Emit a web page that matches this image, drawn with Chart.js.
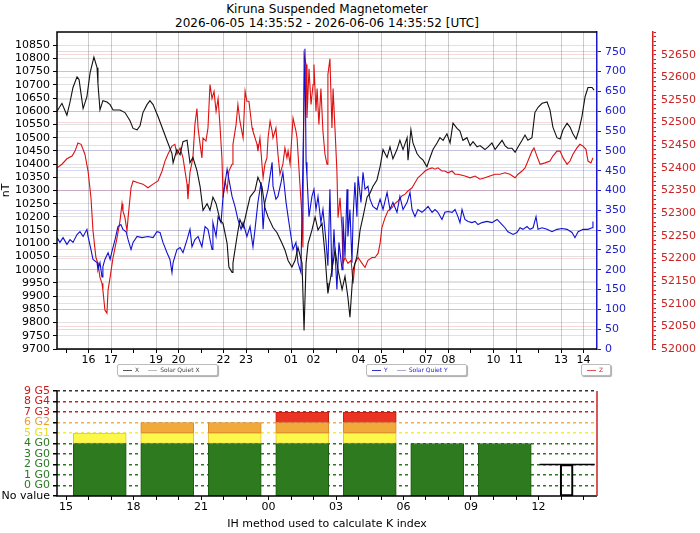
<!DOCTYPE html>
<html>
<head>
<meta charset="utf-8">
<script src="https://cdn.jsdelivr.net/npm/chart.js@4.4.1/dist/chart.umd.min.js"></script>
<style>
  body { margin: 0; background: #fff; width: 700px; height: 533px; position: relative; overflow: hidden; font-family: "DejaVu Sans", sans-serif; }
  #title { position: absolute; left: 57px; width: 540px; top: 2px; text-align: center; font-size: 12px; line-height: 14px; color: #000; }
  #magChart { position: absolute; left: 0; top: 0; }
  #kChart { position: absolute; left: 0; top: 375px; }
  .leg { position: absolute; top: 364px; height: 10px; border: 1px solid #bbb; border-radius: 2px; background: #fff; box-shadow: 1px 1px 1px #aaa; font-size: 6px; line-height: 10px; white-space: nowrap; padding: 0 3px; }
  .leg i { display: inline-block; width: 9px; height: 0; border-top: 1px solid; vertical-align: middle; margin: 0 3px 0 2px; }
</style>
</head>
<body>
<div id="title">Kiruna Suspended Magnetometer<br>2026-06-05 14:35:52 - 2026-06-06 14:35:52 [UTC]</div>
<canvas id="magChart" width="700" height="372"></canvas>
<canvas id="kChart" width="700" height="158"></canvas>
<div class="leg" style="left:117px;width:93px;color:#444"><i style="border-color:#555"></i>X<i style="border-color:#bbb;margin-left:9px"></i>Solar Quiet X</div>
<div class="leg" style="left:366px;width:93px;color:#22c"><i style="border-color:#33c"></i>Y<i style="border-color:#aac;margin-left:9px"></i>Solar Quiet Y</div>
<div class="leg" style="left:581px;width:22px;color:#c22"><i style="border-color:#d55"></i>Z</div>
<script>
// hours since 2026-06-05 00:00 UTC (24 = 00 next day)
const hourTicks = [15,16,17,18,19,20,21,22,23,24,25,26,27,28,29,30,31,32,33,34,35,36,37,38];

const nTTicks = [9700,9750,9800,9850,9900,9950,10000,10050,10100,10150,10200,10250,10300,10350,10400,10450,10500,10550,10600,10650,10700,10750,10800,10850];
const yTicks = [0,50,100,150,200,250,300,350,400,450,500,550,600,650,700,750];
const zTicks = [52000,52050,52100,52150,52200,52250,52300,52350,52400,52450,52500,52550,52600,52650];

// X component (black, left axis)
const xTime = [14.60,14.82,15.04,15.18,15.31,15.49,15.58,15.76,15.93,16.07,
  16.24,16.38,16.42,16.51,16.64,16.82,16.96,17.09,17.40,17.62,
  17.84,17.98,18.16,18.29,18.42,18.60,18.73,18.87,19.09,19.31,
  19.53,19.71,19.76,19.93,20.07,20.20,20.38,20.51,20.64,20.82,
  20.96,21.09,21.27,21.40,21.53,21.67,21.84,21.98,22.16,22.24,
  22.38,22.42,22.60,22.73,22.87,23.04,23.18,23.40,23.53,23.71,
  23.84,23.98,24.20,24.38,24.60,24.73,24.87,25.04,25.18,25.31,
  25.49,25.58,25.67,25.76,25.93,26.07,26.20,26.38,26.51,26.60,
  26.64,26.82,26.96,27.09,27.27,27.40,27.53,27.62,27.76,27.93,
  28.07,28.20,28.38,28.51,28.64,28.82,28.96,29.09,29.27,29.40,
  29.53,29.71,29.84,29.98,30.16,30.20,30.33,30.42,30.60,30.73,
  30.87,31.04,31.18,31.31,31.49,31.62,31.76,31.93,32.07,32.20,
  32.38,32.51,32.64,32.82,32.96,33.09,33.27,33.40,33.62,33.76,
  33.93,34.07,34.20,34.38,34.51,34.64,34.82,34.96,35.09,35.27,
  35.40,35.53,35.71,35.84,35.98,36.16,36.38,36.51,36.64,36.82,
  36.96,37.09,37.27,37.40,37.53,37.67,37.80,37.93,38.07,38.20,
  38.38,38.47];
const xNT = [10600,10630,10585,10635,10690,10730,10720,10610,10655,10745,
  10805,10765,10705,10605,10640,10635,10625,10605,10605,10595,
  10565,10535,10530,10545,10595,10625,10640,10625,10580,10530,
  10480,10440,10405,10455,10435,10485,10490,10405,10425,10375,
  10315,10225,10250,10225,10275,10250,10190,10175,10100,10010,
  9990,10025,10125,10190,10160,10225,10275,10300,10350,10315,
  10235,10200,10160,10140,10100,10075,10035,10010,10035,10085,
  10025,9770,10025,10100,10150,10200,10150,10175,10060,9950,
  9910,10000,10075,10000,9925,9975,9895,9820,10000,10050,
  10150,10200,10275,10290,10315,10340,10390,10455,10425,10465,
  10420,10455,10490,10455,10500,10415,10530,10480,10440,10425,
  10415,10390,10425,10455,10480,10500,10490,10515,10480,10555,
  10535,10525,10490,10500,10470,10485,10465,10470,10455,10465,
  10480,10455,10470,10490,10470,10460,10460,10445,10465,10490,
  10510,10490,10500,10595,10615,10630,10635,10605,10540,10500,
  10495,10530,10555,10540,10515,10495,10530,10580,10655,10690,
  10690,10680];

// Y component (blue, right axis)
const yTime = [14.60,14.73,14.87,15.04,15.18,15.31,15.49,15.62,15.76,15.93,
  15.98,16.11,16.20,16.38,16.42,16.51,16.60,16.64,16.73,16.87,
  16.96,17.04,17.18,17.31,17.44,17.53,17.67,17.76,17.89,17.98,
  18.16,18.38,18.64,18.87,19.04,19.18,19.31,19.49,19.62,19.71,
  19.76,19.93,20.07,20.20,20.38,20.51,20.60,20.73,20.87,21.04,
  21.18,21.31,21.49,21.53,21.67,21.76,21.89,21.98,22.16,22.24,
  22.38,22.51,22.64,22.78,22.87,23.04,23.18,23.31,23.40,23.53,
  23.67,23.76,23.84,23.98,24.16,24.20,24.33,24.42,24.56,24.64,
  24.78,24.87,25.00,25.09,25.22,25.31,25.44,25.53,25.62,25.67,
  25.71,25.80,25.93,26.02,26.11,26.20,26.33,26.42,26.56,26.64,
  26.73,26.82,26.91,27.04,27.13,27.27,27.31,27.40,27.49,27.53,
  27.62,27.71,27.76,27.84,27.93,27.98,28.11,28.20,28.29,28.42,
  28.51,28.64,28.82,28.96,29.09,29.27,29.40,29.53,29.71,29.84,
  29.98,30.16,30.29,30.38,30.51,30.64,30.82,30.96,31.09,31.27,
  31.40,31.53,31.71,31.84,31.98,32.16,32.29,32.42,32.51,32.60,
  32.73,32.87,33.04,33.18,33.31,33.49,33.71,33.93,34.16,34.38,
  34.51,34.64,34.87,35.04,35.18,35.31,35.49,35.62,35.76,35.89,
  35.98,36.16,36.38,36.60,36.82,37.04,37.27,37.49,37.62,37.76,
  37.98,38.20,38.38,38.42];
const yNT = [281,269,281,264,276,269,289,296,284,302,
  284,251,226,218,200,218,182,208,226,243,
  226,246,276,309,314,302,296,276,251,269,
  284,281,284,281,296,294,269,243,226,193,
  218,251,256,243,276,302,258,276,284,258,
  309,302,251,319,284,334,319,385,454,428,
  385,360,327,302,319,284,309,258,302,370,
  421,302,370,403,471,411,378,385,421,446,
  370,334,284,251,269,218,193,471,758,471,
  436,334,385,403,352,385,319,352,269,210,
  403,182,302,150,269,200,334,233,403,284,
  352,218,334,421,334,436,370,446,403,411,
  378,360,352,378,352,395,352,370,345,385,
  352,370,395,352,334,352,345,352,360,345,
  352,345,327,345,347,345,352,334,319,352,
  327,322,319,322,314,319,322,319,327,314,
  306,296,289,294,306,302,309,302,306,334,
  302,306,302,296,302,304,302,294,281,296,
  302,302,306,322];

// Z component (red, outer right axis)
const zTime = [14.60,14.82,15.04,15.27,15.40,15.53,15.67,15.84,15.98,16.11,
  16.20,16.33,16.42,16.51,16.60,16.64,16.73,16.82,16.87,16.96,
  17.09,17.27,17.40,17.49,17.53,17.62,17.71,17.76,17.89,17.98,
  18.20,18.42,18.64,18.87,19.09,19.27,19.40,19.53,19.71,19.84,
  19.93,20.07,20.20,20.38,20.42,20.51,20.64,20.73,20.82,20.87,
  20.96,21.04,21.09,21.22,21.31,21.40,21.49,21.58,21.67,21.76,
  21.84,21.93,21.98,22.07,22.16,22.24,22.38,22.42,22.56,22.64,
  22.73,22.87,22.96,23.04,23.13,23.27,23.31,23.49,23.53,23.62,
  23.71,23.76,23.84,23.93,23.98,24.07,24.16,24.20,24.33,24.42,
  24.51,24.64,24.73,24.82,24.87,24.96,25.09,25.22,25.27,25.36,
  25.49,25.53,25.58,25.67,25.71,25.80,25.89,25.98,26.02,26.11,
  26.16,26.24,26.33,26.42,26.51,26.60,26.64,26.73,26.82,26.87,
  26.96,27.04,27.09,27.18,27.27,27.31,27.40,27.53,27.67,27.76,
  27.84,27.98,28.16,28.29,28.42,28.60,28.73,28.87,28.96,29.04,
  29.18,29.31,29.49,29.62,29.76,29.93,30.07,30.20,30.38,30.51,
  30.64,30.82,30.96,31.09,31.27,31.40,31.53,31.71,31.84,31.98,
  32.16,32.29,32.42,32.73,32.96,33.18,33.40,33.62,33.84,34.07,
  34.29,34.51,34.73,34.96,35.09,35.27,35.40,35.53,35.71,35.80,
  35.93,36.07,36.29,36.51,36.64,36.82,36.96,37.09,37.27,37.40,
  37.53,37.71,37.84,37.98,38.11,38.20,38.33,38.42];
const zNT = [52400,52408,52420,52426,52437,52455,52452,52430,52393,52334,
  52261,52202,52189,52158,52145,52130,52086,52079,52130,52158,
  52202,52246,52283,52321,52305,52290,52261,52290,52356,52371,
  52367,52364,52356,52364,52371,52393,52415,52430,52448,52452,
  52430,52444,52422,52364,52331,52390,52422,52496,52531,52488,
  52452,52422,52466,52459,52488,52584,52553,52569,52525,52553,
  52496,52422,52334,52371,52349,52393,52408,52452,52496,52540,
  52503,52466,52569,52547,52547,52488,52481,52452,52437,52466,
  52408,52378,52408,52422,52466,52503,52481,52466,52488,52430,
  52386,52408,52444,52422,52437,52408,52510,52481,52466,52393,
  52290,52224,52650,52628,52510,52619,52540,52584,52628,52525,
  52575,52496,52575,52481,52430,52408,52606,52641,52488,52575,
  52481,52393,52290,52334,52261,52189,52202,52189,52196,52145,
  52189,52202,52189,52180,52196,52202,52202,52211,52233,52268,
  52290,52305,52312,52321,52327,52338,52342,52349,52356,52367,
  52378,52386,52393,52397,52400,52397,52400,52393,52393,52389,
  52393,52386,52386,52382,52378,52382,52375,52378,52382,52386,
  52386,52389,52386,52378,52386,52393,52400,52415,52437,52444,
  52426,52408,52411,52415,52426,52437,52437,52422,52408,52415,
  52430,52444,52452,52448,52441,52415,52411,52422];

// K index, 3-hour bins (bin centre hour)
const kBinHours = [16.5, 19.5, 22.5, 25.5, 28.5, 31.5, 34.5];
const kValues = [5, 6, 6, 7, 7, 4, 4];
const kNowHour = 37.25;
const kNowValue = 2;
const kNowSpan = [36.05, 38.5];
const kLevels = [-1,0,1,2,3,4,5,6,7,8,9];
const kLevelLabels = ['No value','0 G0','1 G0','2 G0','3 G0','4 G0','5 G1','6 G2','7 G3','8 G4','9 G5'];

Chart.defaults.font.family = '"DejaVu Sans", sans-serif';
Chart.defaults.font.size = 11;
Chart.defaults.color = '#000';

const toPoints = (t, v) => t.map((h, i) => ({x: h, y: v[i]}));
const hourLabel = (v) => String(v % 24).padStart(2, '0');

const magFrame = {
    id: 'magFrame',
    afterDraw(chart) {
        const {ctx, chartArea: a} = chart;
        ctx.save();
        ctx.strokeStyle = '#000';
        ctx.lineWidth = 1.5;
        ctx.beginPath();
        ctx.moveTo(a.right, a.top);
        ctx.lineTo(a.left, a.top);
        ctx.lineTo(a.left, a.bottom);
        ctx.lineTo(a.right, a.bottom);
        ctx.stroke();
        ctx.restore();
    }
};

new Chart(document.getElementById('magChart'), {
    type: 'line',
    data: {
        datasets: [{
            label: 'X',
            data: toPoints(xTime, xNT),
            borderColor: '#111',
            yAxisID: 'y'
        }, {
            label: 'Y',
            data: toPoints(yTime, yNT),
            borderColor: '#1010d0',
            yAxisID: 'y1'
        }, {
            label: 'Z',
            data: toPoints(zTime, zNT),
            borderColor: '#dd1111',
            yAxisID: 'y2'
        }]
    },
    options: {
        responsive: false,
        animation: false,
        layout: { padding: { top: 32, left: 0, right: 0, bottom: 0 } },
        elements: { point: { radius: 0 }, line: { borderWidth: 1.1, tension: 0 } },
        plugins: { legend: { display: false }, tooltip: { enabled: false } },
        scales: {
            x: {
                type: 'linear',
                min: 14.6,
                max: 38.6,
                afterBuildTicks: (s) => { s.ticks = hourTicks.map(v => ({value: v})); },
                afterFit: (s) => { s.height = 23; },
                ticks: { autoSkip: false, maxRotation: 0, padding: 1, callback: (v) => v % 3 === 0 ? '' : hourLabel(v) },
                grid: {
                    color: (c) => (c.tick && c.tick.value % 3 === 0) ? 'rgba(0,0,0,0)' : '#cccccc',
                    tickColor: '#000',
                    tickLength: 4
                },
                border: { display: false }
            },
            y: {
                position: 'left',
                min: 9700,
                max: 10900,
                afterBuildTicks: (s) => { s.ticks = nTTicks.map(v => ({value: v})); },
                afterFit: (s) => { s.width = 57; },
                title: { display: true, text: 'nT', padding: 0 },
                ticks: { autoSkip: false, padding: 3, callback: (v) => String(v) },
                grid: { color: 'rgba(120,120,120,0.22)', tickColor: '#000', tickLength: 4 },
                border: { display: false }
            },
            y1: {
                position: 'right',
                weight: 0,
                min: 0,
                max: 800,
                afterBuildTicks: (s) => { s.ticks = yTicks.map(v => ({value: v})); },
                afterFit: (s) => { s.width = 56; },
                ticks: { autoSkip: false, color: '#1a1acc', padding: 4, callback: (v) => String(v) },
                grid: { color: 'rgba(80,80,220,0.22)', tickColor: '#1a1acc', tickLength: 4 },
                border: { color: '#1a1acc', width: 1.5 }
            },
            y2: {
                position: 'right',
                weight: 1,
                min: 52000,
                max: 52700,
                afterBuildTicks: (s) => {
                    const t = [];
                    for (let v = 52000; v <= 52700; v += 10) t.push({value: v});
                    s.ticks = t;
                },
                afterFit: (s) => { s.width = 47; },
                ticks: {
                    autoSkip: false,
                    color: '#cc2222',
                    padding: 5,
                    callback: (v) => zTicks.includes(v) ? String(v) : ''
                },
                grid: {
                    color: (c) => (c.tick && zTicks.includes(c.tick.value)) ? 'rgba(225,80,80,0.22)' : 'rgba(0,0,0,0)',
                    tickColor: '#cc2222',
                    tickLength: 3
                },
                border: { color: '#cc2222', width: 1.5 }
            }
        }
    },
    plugins: [magFrame]
});

// ---- K index panel ----
const kSegments = [
    { lo: -1, hi: 4, fill: '#2e7a1e', edge: '#1f5c12' },
    { lo: 4, hi: 5, fill: '#fbf84a', edge: '#e8c040' },
    { lo: 5, hi: 6, fill: '#f2a93c', edge: '#d98a28' },
    { lo: 6, hi: 9, fill: '#ea3322', edge: '#c21e10' }
];
const levelColor = (v) => v >= 7 ? '#cc1a1a' : v === 6 ? '#e8a030' : v === 5 ? '#e6e020' : v >= 0 ? '#2a7a22' : '#000';
const gridColor = (v) => v === 9 ? '#333' : v >= 7 ? '#cc2020' : v === 6 ? '#f0b050' : v === 5 ? '#f0ee40' : v >= 0 ? '#2a7a22' : 'rgba(0,0,0,0)';

const kDatasets = kSegments.map(seg => ({
    type: 'bar',
    data: kBinHours.map((h, i) => kValues[i] > seg.lo ? {x: h, y: [seg.lo, Math.min(kValues[i], seg.hi)]} : null).filter(p => p),
    backgroundColor: seg.fill,
    borderColor: seg.edge,
    borderWidth: 1,
    borderSkipped: false,
    barThickness: 53,
    grouped: false
}));
kDatasets.push({
    type: 'bar',
    data: [{x: kNowHour, y: [-1, kNowValue]}],
    backgroundColor: 'rgba(0,0,0,0)',
    borderColor: '#000',
    borderWidth: 1.5,
    borderSkipped: false,
    barThickness: 13,
    grouped: false
});
kDatasets.push({
    type: 'line',
    data: kNowSpan.map(h => ({x: h, y: kNowValue})),
    borderColor: '#000',
    borderWidth: 1.5,
    pointRadius: 0
});

const kFrame = {
    id: 'kFrame',
    afterDraw(chart) {
        const {ctx, chartArea: a} = chart;
        ctx.save();
        ctx.lineWidth = 1.5;
        ctx.strokeStyle = '#000';
        ctx.beginPath();
        ctx.moveTo(a.left, a.top);
        ctx.lineTo(a.left, a.bottom);
        ctx.lineTo(a.right, a.bottom);
        ctx.stroke();
        ctx.strokeStyle = '#cc2020';
        ctx.beginPath();
        ctx.moveTo(a.right, a.top);
        ctx.lineTo(a.right, a.bottom);
        ctx.stroke();
        ctx.restore();
    }
};

new Chart(document.getElementById('kChart'), {
    type: 'bar',
    data: { datasets: kDatasets },
    options: {
        responsive: false,
        animation: false,
        layout: { padding: { top: 16, left: 0, right: 103, bottom: 0 } },
        plugins: { legend: { display: false }, tooltip: { enabled: false } },
        scales: {
            x: {
                type: 'linear',
                min: 14.6,
                max: 38.6,
                offset: false,
                afterBuildTicks: (s) => { s.ticks = hourTicks.map(v => ({value: v})); },
                afterFit: (s) => { s.height = 37; },
                ticks: { autoSkip: false, maxRotation: 0, padding: 1, callback: (v) => v % 3 === 0 ? hourLabel(v) : '' },
                title: { display: true, text: 'IH method used to calculate K index', padding: { top: 0, bottom: 2 } },
                grid: { offset: false, drawOnChartArea: false, tickColor: '#000', tickLength: 4 },
                border: { display: false }
            },
            y: {
                min: -1,
                max: 9,
                afterBuildTicks: (s) => { s.ticks = kLevels.map(v => ({value: v})); },
                afterFit: (s) => { s.width = 57; },
                ticks: {
                    autoSkip: false,
                    padding: 3,
                    callback: (v) => kLevelLabels[kLevels.indexOf(v)],
                    color: (c) => levelColor(c.tick.value)
                },
                grid: { color: (c) => gridColor(c.tick ? c.tick.value : -1), lineWidth: 1.5, tickColor: '#000', tickLength: 4 },
                border: { display: false, dash: [3, 3] }
            }
        }
    },
    plugins: [kFrame]
});
</script>
</body>
</html>
